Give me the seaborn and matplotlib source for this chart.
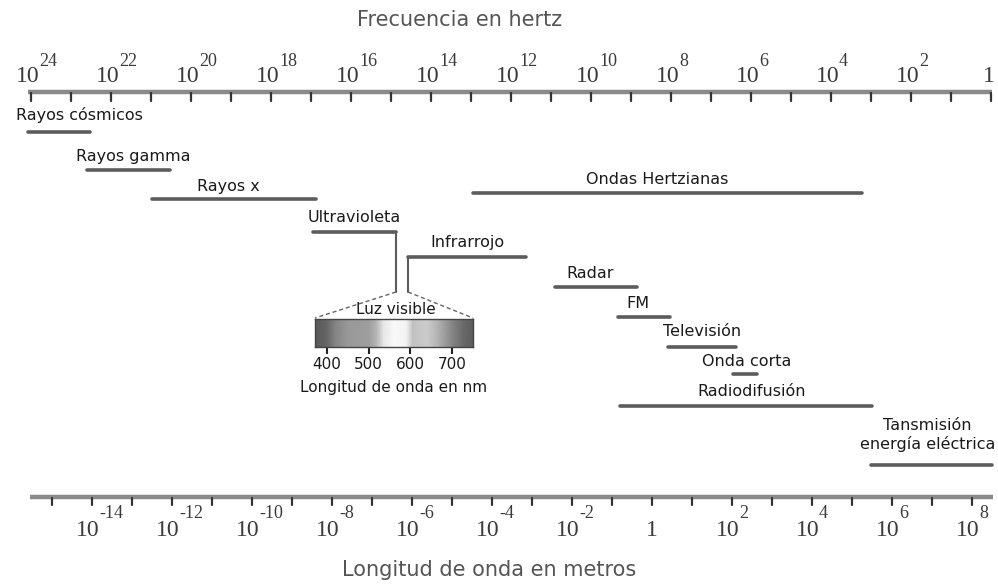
import numpy as np
import pandas as pd
import matplotlib
matplotlib.use("Agg")
import matplotlib.pyplot as plt
import seaborn as sns

# ---------------- data ----------------
C_LIGHT = 2.998e8                                   # m/s
freq_exponents = list(range(24, -1, -1))            # tick marks 10^24 ... 1 Hz
freq_label_exponents = list(range(24, -1, -2))      # labelled frequency ticks
wave_exponents = list(range(-15, 9))                # tick marks 10^-15 ... 10^8 m
wave_label_exponents = list(range(-14, 9, 2))       # labelled wavelength ticks

bands = ["Rayos cósmicos", "Rayos gamma", "Rayos x", "Ultravioleta", "Infrarrojo",
         "Ondas Hertzianas", "Radar", "FM", "Televisión", "Onda corta",
         "Radiodifusión", "Tansmisión\nenergía eléctrica"]
# log10 of wavelength in metres
band_lo = [-15.6, -14.12, -12.5, -8.47, -6.1, -4.47, -2.42, -0.85, 0.4, 2.03, -0.8, 5.47]
band_hi = [-14.05, -12.05, -8.4, -6.4, -3.15, 5.25, -0.37, 0.45, 2.1, 2.63, 5.5, 8.5]

visible_nm = [371, 400, 420, 450, 500, 520, 535, 560, 590, 605, 640, 670, 700, 725, 750]
visible_gray = [0.34, 0.4, 0.52, 0.6, 0.62, 0.72, 0.9, 0.98, 0.95, 0.76, 0.8, 0.68, 0.52, 0.42, 0.36]
visible_ticks = [400, 500, 600, 700]

# ---------------- layout ----------------
band_y = [132, 170, 199, 232, 257, 193, 287, 317, 347, 374, 406, 465]
label_y = [115, 156, 186, 217, 243, 180, 273, 304, 332, 362, 392, 435]
label_dx = [20, 5, -6, 0, 0, -10, -6, -6, 0, 1, 6, -4]   # pixels


def px2L(x):
    return (x - 652) / 40.0


PX = 1 / 40.0

sns.set_theme(style="white")
plt.rcParams['font.family'] = ['DejaVu Sans']

fig = plt.figure(figsize=(9.98, 5.84), dpi=100)
ax = fig.add_axes([0, 0, 1, 1])

# band segments via seaborn
rows = []
for name, lo, hi, y in zip(bands, band_lo, band_hi, band_y):
    rows.append({"band": name, "x": lo, "y": y})
    rows.append({"band": name, "x": hi, "y": y})
df = pd.DataFrame(rows)
sns.lineplot(data=df, x="x", y="y", units="band", estimator=None, sort=False,
             color="#5c5c5c", linewidth=2.6, ax=ax, legend=False)

for name, lo, hi, ly, dx in zip(bands, band_lo, band_hi, label_y, label_dx):
    ax.text((lo + hi) / 2 + dx * PX, ly, name, ha="center", va="center",
            fontsize=11.5, color="#1a1a1a", linespacing=1.25)

SERIF = "Liberation Serif"
TICK_C = "#3a3a3a"

# ---------------- frequency axis (top) ----------------
ax.plot([px2L(28), px2L(992)], [92, 92], color="#8a8a8a", lw=3.2, solid_capstyle="butt")
for e in freq_exponents:
    xl = np.log10(C_LIGHT) - e
    ax.plot([xl, xl], [93, 101], color="#333333", lw=1.6)
for e in freq_label_exponents:
    xl = np.log10(C_LIGHT) - e
    if e == 0:
        ax.text(xl - 2 * PX, 76, "1", ha="center", va="center", fontsize=17,
                family=SERIF, color=TICK_C)
    else:
        ax.text(xl - 3 * PX, 76, "10", ha="center", va="center", fontsize=17,
                family=SERIF, color=TICK_C)
        ax.text(xl + 8 * PX, 62, str(e), ha="left", va="center", fontsize=13,
                family=SERIF, color=TICK_C)

# ---------------- wavelength axis (bottom) ----------------
ax.plot([px2L(30), px2L(993)], [497, 497], color="#8a8a8a", lw=3.2, solid_capstyle="butt")
for e in wave_exponents:
    ax.plot([e, e], [498, 505], color="#333333", lw=1.6)
for e in wave_label_exponents:
    if e == 0:
        ax.text(e, 530, "1", ha="center", va="center", fontsize=17,
                family=SERIF, color=TICK_C)
    else:
        ax.text(e - 4 * PX, 530, "10", ha="center", va="center", fontsize=17,
                family=SERIF, color=TICK_C)
        ax.text(e + 7 * PX, 514, str(e), ha="left", va="center", fontsize=13,
                family=SERIF, color=TICK_C)

# ---------------- visible light connectors ----------------
uv_end = band_hi[3]
ir_start = band_lo[4]
ax.plot([uv_end, uv_end], [band_y[3], 292], color="#5c5c5c", lw=1.5)
ax.plot([ir_start, ir_start], [band_y[4], 292], color="#5c5c5c", lw=1.5)
ax.plot([uv_end, px2L(315)], [292, 318], color="#666666", lw=1, ls=(0, (3, 2)))
ax.plot([ir_start, px2L(473)], [292, 318], color="#666666", lw=1, ls=(0, (3, 2)))
ax.text(px2L(396), 309, "Luz visible", ha="center", va="center", fontsize=11, color="#1a1a1a")

ax.set_xlim(px2L(0), px2L(998))
ax.set_ylim(584, 0)
ax.axis("off")

fig.text(460 / 998, 1 - 20 / 584, "Frecuencia en hertz", ha="center", va="center",
         fontsize=15, color="#555555")
fig.text(489 / 998, 1 - 570 / 584, "Longitud de onda en metros", ha="center", va="center",
         fontsize=15, color="#555555")

# ---------------- visible spectrum inset ----------------
axv = fig.add_axes([315 / 998, 1 - 347 / 584, 158 / 998, 28 / 584])
X = np.array(visible_nm, dtype=float)
Y = np.array([0.0, 1.0])
Cg = np.vstack([visible_gray, visible_gray])
axv.pcolormesh(X, Y, Cg, cmap="gray", vmin=0, vmax=1, shading="gouraud")
axv.set_xlim(visible_nm[0], visible_nm[-1])
axv.set_ylim(0, 1)
axv.set_yticks([])
axv.set_xticks(visible_ticks)
axv.set_xticklabels([str(t) for t in visible_ticks], fontsize=11, color="#1a1a1a")
axv.tick_params(axis="x", bottom=True, direction="out", length=5, width=1.5,
                color="#222222", pad=2)
for s in axv.spines.values():
    s.set_color("#444444")
    s.set_linewidth(1)
axv.set_xlabel("Longitud de onda en nm", fontsize=11, color="#1a1a1a", labelpad=6)

fig.savefig("out.png", dpi=100)
